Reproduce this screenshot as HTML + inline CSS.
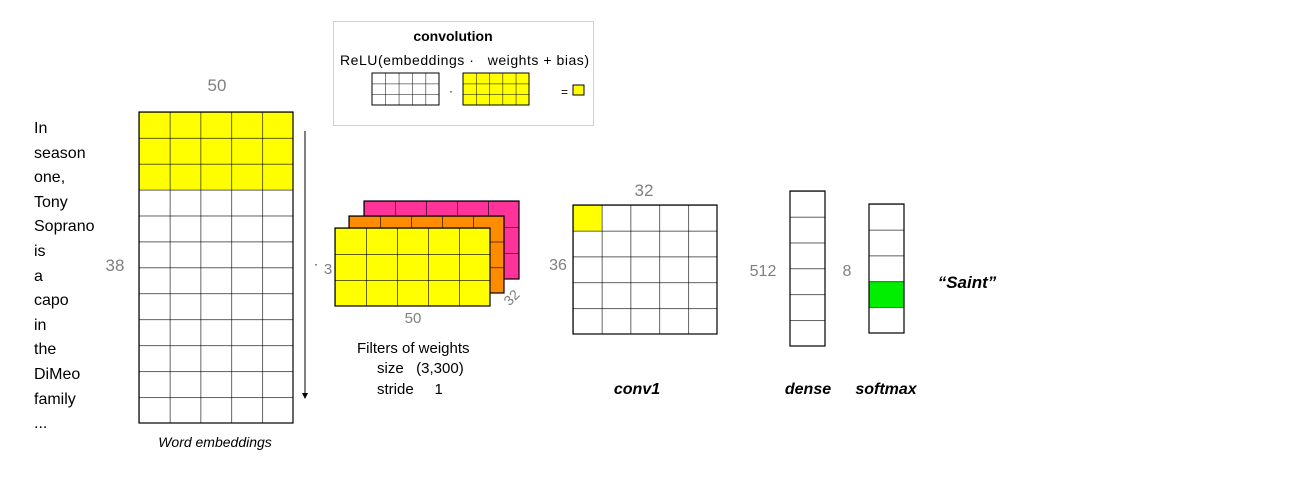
<!DOCTYPE html>
<html><head><meta charset="utf-8"><style>
body{margin:0;background:#fff;}
svg text{font-family:"Liberation Sans",sans-serif;}
</style></head><body>
<svg width="1300" height="493" viewBox="0 0 1300 493" xmlns="http://www.w3.org/2000/svg">
<defs>
<pattern id="pEmb" patternUnits="userSpaceOnUse" x="139" y="112" width="30.8" height="25.92"><path d="M0,0H30.8M0,0V25.92" stroke="#000" stroke-width="1.2" fill="none"/></pattern>
<pattern id="pFil" patternUnits="userSpaceOnUse" x="335" y="228" width="31" height="26"><path d="M0,0H31M0,0V26" stroke="#000" stroke-width="1.2" fill="none"/></pattern>
<pattern id="pFilO" patternUnits="userSpaceOnUse" x="349" y="216" width="31" height="25.7"><path d="M0,0H31M0,0V25.7" stroke="#000" stroke-width="1.2" fill="none"/></pattern>
<pattern id="pFilP" patternUnits="userSpaceOnUse" x="364" y="201" width="31" height="26"><path d="M0,0H31M0,0V26" stroke="#000" stroke-width="1.2" fill="none"/></pattern>
<pattern id="pConv" patternUnits="userSpaceOnUse" x="573" y="205" width="28.8" height="25.8"><path d="M0,0H28.8M0,0V25.8" stroke="#000" stroke-width="1.2" fill="none"/></pattern>
<pattern id="pDense" patternUnits="userSpaceOnUse" x="790" y="191" width="35" height="25.83"><path d="M0,0H35" stroke="#000" stroke-width="1.2" fill="none"/></pattern>
<pattern id="pSoft" patternUnits="userSpaceOnUse" x="869" y="204" width="35" height="25.8"><path d="M0,0H35" stroke="#000" stroke-width="1.2" fill="none"/></pattern>
<pattern id="pLeg" patternUnits="userSpaceOnUse" x="372" y="73" width="13.4" height="10.67"><path d="M0,0H13.4M0,0V10.67" stroke="#000" stroke-width="1" fill="none"/></pattern>
<pattern id="pLeg2" patternUnits="userSpaceOnUse" x="463" y="73" width="13.2" height="10.67"><path d="M0,0H13.2M0,0V10.67" stroke="#000" stroke-width="1" fill="none"/></pattern>
</defs>

<g font-size="16" fill="#000">
<text x="34" y="133">In</text><text x="34" y="158">season</text><text x="34" y="182">one,</text>
<text x="34" y="207">Tony</text><text x="34" y="231">Soprano</text><text x="34" y="256">is</text>
<text x="34" y="281">a</text><text x="34" y="305">capo</text><text x="34" y="330">in</text>
<text x="34" y="354">the</text><text x="34" y="379">DiMeo</text><text x="34" y="404">family</text>
<text x="34" y="428">...</text>
</g>

<g>
<rect x="139" y="112" width="154" height="311" fill="#fff"/>
<rect x="139" y="112" width="154" height="77.76" fill="#ffff00"/>
<rect x="139" y="112" width="154" height="311" fill="url(#pEmb)" stroke="#000" stroke-width="1.2"/>
</g>

<g>
<rect x="364" y="201" width="155" height="78" fill="#ff3399"/>
<rect x="364" y="201" width="155" height="78" fill="url(#pFilP)" stroke="#000" stroke-width="1.2"/>
</g>
<g>
<rect x="349" y="216" width="155" height="77" fill="#ff8c00"/>
<rect x="349" y="216" width="155" height="77" fill="url(#pFilO)" stroke="#000" stroke-width="1.2"/>
</g>
<g>
<rect x="335" y="228" width="155" height="78" fill="#ffff00"/>
<rect x="335" y="228" width="155" height="78" fill="url(#pFil)" stroke="#000" stroke-width="1.2"/>
</g>

<g>
<rect x="573" y="205" width="144" height="129" fill="#fff"/>
<rect x="573" y="205" width="28.8" height="25.8" fill="#ffff00"/>
<rect x="573" y="205" width="144" height="129" fill="url(#pConv)" stroke="#000" stroke-width="1.2"/>
</g>

<g>
<rect x="790" y="191" width="35" height="155" fill="url(#pDense)" stroke="#000" stroke-width="1.2"/>
</g>
<g>
<rect x="869" y="281.4" width="35" height="25.8" fill="#00ee00"/>
<rect x="869" y="204" width="35" height="129" fill="url(#pSoft)" stroke="#000" stroke-width="1.2"/>
</g>

<g fill="#7f7f7f" font-size="17">
<text x="217" y="91" text-anchor="middle">50</text>
<text x="115" y="271" text-anchor="middle">38</text>
<text x="328" y="274" text-anchor="middle" font-size="15">3</text>
<text x="314" y="268" font-size="12" fill="#000">·</text>
<text x="413" y="323" text-anchor="middle" font-size="15">50</text>
<text transform="translate(515,301) rotate(-45)" text-anchor="middle" font-size="14">32</text>
<text x="644" y="196" text-anchor="middle">32</text>
<text x="558" y="270" text-anchor="middle" font-size="16">36</text>
<text x="763" y="276" text-anchor="middle" font-size="16">512</text>
<text x="847" y="276" text-anchor="middle" font-size="16">8</text>
</g>
<line x1="305" y1="131" x2="305" y2="394" stroke="#000" stroke-width="1"/>
<polygon points="302,393 308,393 305,399" fill="#000"/>

<g>
<rect x="333.5" y="21.5" width="260" height="104" fill="#fff" stroke="#d0d0d0"/>
<text x="453" y="41" text-anchor="middle" font-weight="bold" font-size="14">convolution</text>
<text x="340" y="65" font-size="14" textLength="249" lengthAdjust="spacing" xml:space="preserve">ReLU(embeddings ·   weights + bias)</text>
<rect x="372" y="73" width="67" height="32" fill="url(#pLeg)" stroke="#000" stroke-width="1"/>
<text x="449" y="95" font-size="12">·</text>
<rect x="463" y="73" width="66" height="32" fill="#ffff00"/>
<rect x="463" y="73" width="66" height="32" fill="url(#pLeg2)" stroke="#000" stroke-width="1"/>
<text x="561" y="96" font-size="12">=</text>
<rect x="573" y="85" width="11" height="10" fill="#ffff00" stroke="#000"/>
</g>

<g font-size="15">
<text x="357" y="353">Filters of weights</text>
<text x="377" y="373" xml:space="preserve">size   (3,300)</text>
<text x="377" y="394" xml:space="preserve">stride     1</text>
</g>
<g font-size="16" font-weight="bold" font-style="italic">
<text x="637" y="394" text-anchor="middle">conv1</text>
<text x="808" y="394" text-anchor="middle">dense</text>
<text x="886" y="394" text-anchor="middle">softmax</text>
<text x="967" y="288" text-anchor="middle" font-size="17">“Saint”</text>
</g>
<text x="215" y="447" text-anchor="middle" font-style="italic" font-size="14">Word embeddings</text>
</svg>
</body></html>
